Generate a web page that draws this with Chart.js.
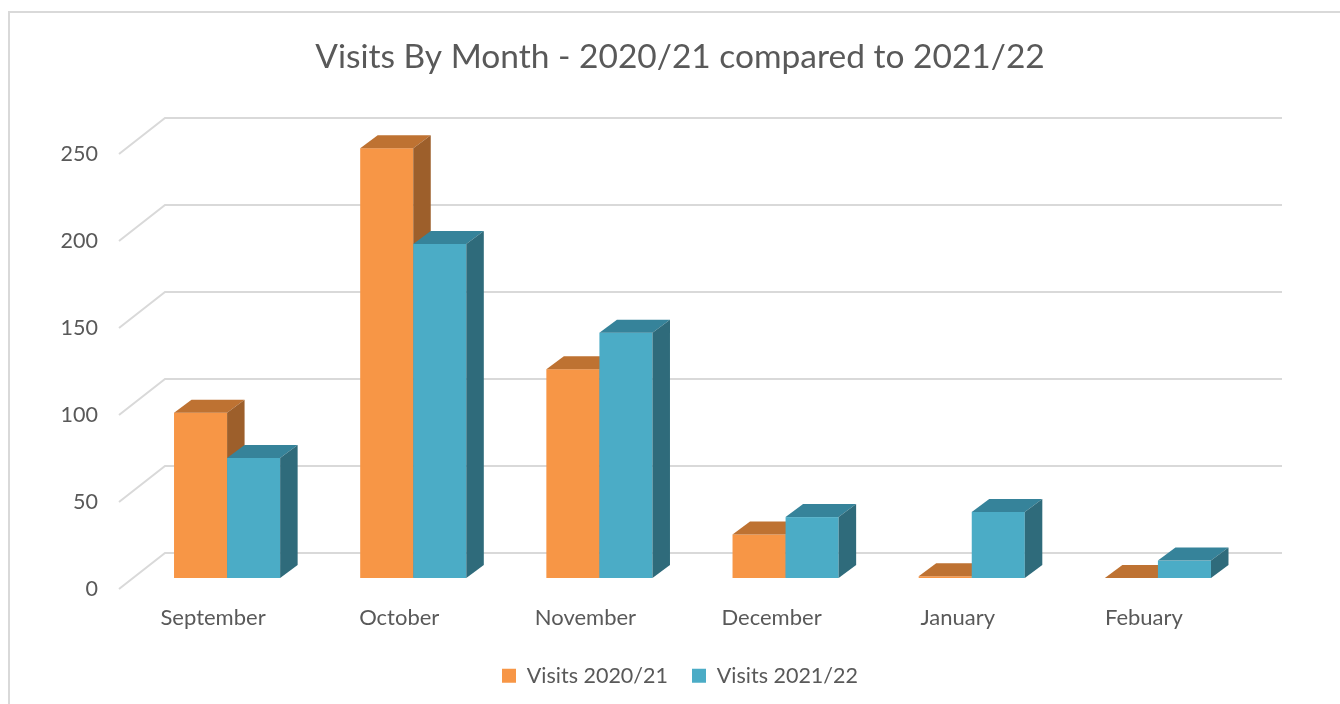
<!DOCTYPE html>
<html><head><meta charset="utf-8">
<script src="https://cdn.jsdelivr.net/npm/chart.js@4/dist/chart.umd.min.js"></script>
<style>html,body{margin:0;padding:0;background:#fff;overflow:hidden}</style>
</head><body>
<canvas id="c" width="1340" height="704"></canvas>
<script>
const categories = ['September', 'October', 'November', 'December', 'January', 'Febuary'];
const visits2020_21 = [95, 247, 120, 25, 1, 0];
const visits2021_22 = [69, 192, 141, 35, 38, 10];
const yTickValues = [0, 50, 100, 150, 200, 250];
const seriesNames = ['Visits 2020/21', 'Visits 2021/22'];

const TEXT = '#595959';
const GRID = '#d9d9d9';
const faces = [
  { front: '#F79646', top: '#BE7232', side: '#9D5F2B' },
  { front: '#4BACC6', top: '#36839A', side: '#2F6B7B' }
];
const DEPTH = { dx: 17.5, dy: -13 };
const FLOOR_FRONT = { dx: -15, dy: 11 };
const WALL_BACK = { dx: 31, dy: -25 };

const bar3d = {
  id: 'bar3d',
  beforeDraw(chart) {
    const ctx = chart.ctx;
    ctx.save();
    ctx.strokeStyle = GRID;
    ctx.lineWidth = 2;
    ctx.beginPath();
    ctx.moveTo(9, 704); ctx.lineTo(9, 12); ctx.lineTo(1340, 12);
    ctx.stroke();
    ctx.restore();
  },
  beforeDatasetsDraw(chart) {
    const ctx = chart.ctx, y = chart.scales.y, area = chart.chartArea;
    ctx.save();
    ctx.strokeStyle = GRID;
    ctx.lineWidth = 2;
    y.ticks.forEach(t => {
      const py = y.getPixelForValue(t.value);
      ctx.beginPath();
      ctx.moveTo(area.left + FLOOR_FRONT.dx, py + FLOOR_FRONT.dy);
      ctx.lineTo(area.left + WALL_BACK.dx, py + WALL_BACK.dy);
      ctx.lineTo(area.right + WALL_BACK.dx, py + WALL_BACK.dy);
      ctx.stroke();
    });
    ctx.restore();
  },
  beforeDatasetDraw() { return false; },
  afterDatasetsDraw(chart) {
    const ctx = chart.ctx;
    const n = chart.data.labels.length;
    ctx.save();
    for (let i = 0; i < n; i++) {
      chart.data.datasets.forEach((ds, d) => {
        const el = chart.getDatasetMeta(d).data[i];
        const p = el.getProps(['x', 'y', 'base', 'width'], true);
        const l = p.x - p.width / 2, r = p.x + p.width / 2;
        const top = p.y, base = p.base;
        const f = faces[d];
        ctx.fillStyle = f.front;
        ctx.fillRect(l, top, r - l, base - top);
        ctx.fillStyle = f.top;
        ctx.beginPath();
        ctx.moveTo(l, top); ctx.lineTo(r, top);
        ctx.lineTo(r + DEPTH.dx, top + DEPTH.dy); ctx.lineTo(l + DEPTH.dx, top + DEPTH.dy);
        ctx.closePath(); ctx.fill();
        ctx.fillStyle = f.side;
        ctx.beginPath();
        ctx.moveTo(r, top); ctx.lineTo(r + DEPTH.dx, top + DEPTH.dy);
        ctx.lineTo(r + DEPTH.dx, base + DEPTH.dy); ctx.lineTo(r, base);
        ctx.closePath(); ctx.fill();
      });
    }
    ctx.restore();
  }
};

new Chart(document.getElementById('c'), {
  type: 'bar',
  data: {
    labels: categories,
    datasets: [
      { label: seriesNames[0], data: visits2020_21, backgroundColor: faces[0].front },
      { label: seriesNames[1], data: visits2021_22, backgroundColor: faces[1].front }
    ]
  },
  options: {
    responsive: false,
    animation: false,
    devicePixelRatio: 1,
    layout: { padding: { left: 20, right: 0, top: 0, bottom: 7.5 } },
    datasets: { bar: { categoryPercentage: 0.57, barPercentage: 1.0 } },
    scales: {
      x: {
        grid: { display: false, drawTicks: false },
        border: { display: false },
        ticks: { color: TEXT, font: { family: 'Lato', size: 22 }, padding: 27, labelOffset: -14, maxRotation: 0 },
        afterFit(s) { s.height = 63; }
      },
      y: {
        min: 0, max: 250,
        afterBuildTicks(s) { s.ticks = yTickValues.map(v => ({ value: v })); },
        grid: { display: false, drawTicks: false },
        border: { display: false },
        ticks: { color: TEXT, font: { family: 'Lato', size: 21.5 }, padding: 36, labelOffset: 11 },
        afterFit(s) { s.width = 114; }
      },
      yRight: {
        position: 'right',
        display: true,
        grid: { display: false, drawTicks: false },
        border: { display: false },
        ticks: { display: false },
        afterFit(s) { s.width = 89; }
      }
    },
    plugins: {
      title: {
        display: true,
        text: 'Visits By Month - 2020/21 compared to 2021/22',
        color: TEXT,
        font: { family: 'Lato', size: 33.5, weight: 'normal' },
        padding: { top: 36.9, bottom: 65.9 }
      },
      legend: {
        position: 'bottom',
        labels: { color: TEXT, font: { family: 'Lato', size: 21.5 }, boxWidth: 14, boxHeight: 14, padding: 24 }
      },
      tooltip: { enabled: false }
    }
  },
  plugins: [bar3d]
});
</script>
</body></html>
